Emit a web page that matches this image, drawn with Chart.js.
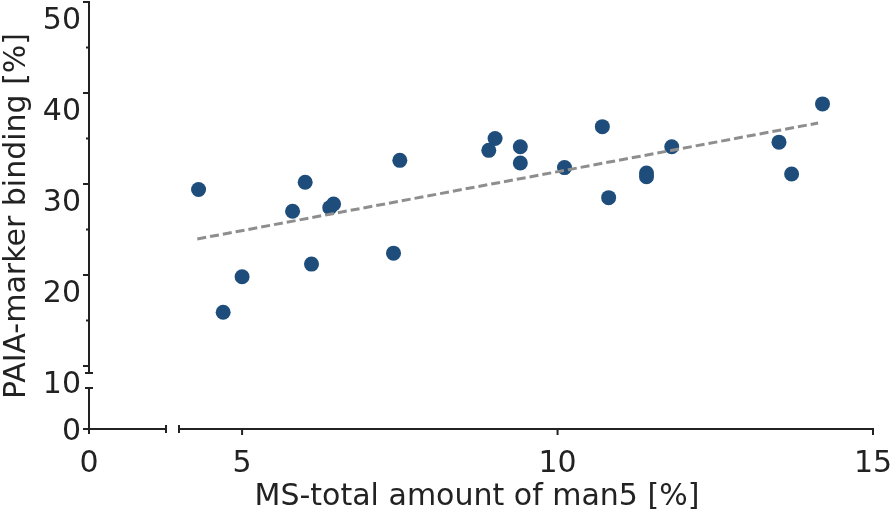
<!DOCTYPE html>
<html>
<head>
<meta charset="utf-8">
<script src="https://cdn.jsdelivr.net/npm/chart.js@4/dist/chart.umd.min.js"></script>
<style>
  html, body { margin: 0; padding: 0; background: #fff; }
  #wrap { width: 894px; height: 516px; }
</style>
</head>
<body>
<div id="wrap"><canvas id="scatterChart" width="894" height="516"></canvas></div>
<script>
// MS-total amount of man5 [%] vs PAIA-marker binding [%]
const man5Values = [4.31, 4.70, 5.00, 5.80, 6.00, 6.10, 6.39, 6.45, 7.40, 7.50, 8.91, 9.01,
  9.41, 9.41, 10.11, 10.71, 10.81, 11.41, 11.41, 11.81, 13.51, 13.71, 14.20];
const bindingValues = [29.4, 15.9, 19.8, 27.0, 30.2, 21.2, 27.4, 27.8, 22.4, 32.6, 33.7, 35.0,
  34.1, 32.3, 31.8, 36.3, 28.5, 31.2, 30.8, 34.1, 34.6, 31.1, 38.8];

// regression line end points
const trendX = [4.29, 14.13];
const trendY = [23.96, 36.7];

// axis ticks (upper / right segments of the broken axes)
const yTicks = [10, 20, 30, 40, 50];
const yMinorTicks = [15, 25, 35, 45];
const xTicks = [5, 10, 15];
// the small segments before the breaks only carry the zero
const lowTickLabel = "0";

const xTitle = "MS-total amount of man5 [%]";
const yTitle = "PAIA-marker binding [%]";

const FONT = "30px 'DejaVu Sans', sans-serif";
const INK = "#222";

const axisX = 89;   // where the y axis sits
const axisY = 429;  // where the x axis sits

const brokenAxes = {
  id: "brokenAxes",
  afterDraw(chart) {
    const ctx = chart.ctx;
    const xs = chart.scales.x;
    const ys = chart.scales.y;
    ctx.save();
    ctx.strokeStyle = INK;
    ctx.fillStyle = INK;
    ctx.lineWidth = 2;
    ctx.lineCap = "butt";

    const line = (x1, y1, x2, y2) => {
      ctx.beginPath();
      ctx.moveTo(x1, y1);
      ctx.lineTo(x2, y2);
      ctx.stroke();
    };

    // y axis, upper part (10..50)
    const yTop = ys.getPixelForValue(50);
    const y10 = ys.getPixelForValue(10);
    line(axisX, yTop - 1, axisX, y10 + 7);
    line(axisX - 4, y10 + 7, axisX + 4, y10 + 7);
    yTicks.forEach(v => line(axisX - 6, ys.getPixelForValue(v), axisX, ys.getPixelForValue(v)));
    yMinorTicks.forEach(v => line(axisX - 3, ys.getPixelForValue(v), axisX, ys.getPixelForValue(v)));

    // y axis, lower part (0..10)
    const lowTop = y10 + 22;
    line(axisX - 4, lowTop, axisX + 4, lowTop);
    line(axisX, lowTop, axisX, axisY);
    line(axisX - 6, axisY, axisX, axisY);

    // x axis, left part (0..)
    line(axisX, axisY, axisX + 77, axisY);
    line(axisX + 77, axisY - 4, axisX + 77, axisY + 4);
    line(axisX, axisY, axisX, axisY + 5);

    // x axis, right part (4..15)
    const xStart = xs.getPixelForValue(4);
    const xEnd = xs.getPixelForValue(15);
    line(xStart, axisY - 4, xStart, axisY + 4);
    line(xStart, axisY, xEnd + 1, axisY);
    xTicks.forEach(v => line(xs.getPixelForValue(v), axisY, xs.getPixelForValue(v), axisY + 6));

    // tick labels
    ctx.font = FONT;
    ctx.textBaseline = "alphabetic";
    ctx.textAlign = "right";
    yTicks.forEach(v => {
      if (v === 10) return;
      ctx.fillText(String(v), axisX - 8, ys.getPixelForValue(v) + 27);
    });
    ctx.fillText("10", axisX - 8, y10 + 27);
    ctx.fillText(lowTickLabel, axisX - 8, axisY + 11);

    ctx.textAlign = "center";
    ctx.fillText(lowTickLabel, axisX, axisY + 43);
    xTicks.forEach(v => ctx.fillText(String(v), xs.getPixelForValue(v), axisY + 43));

    // axis titles
    ctx.fillText(xTitle, 477, 505);
    ctx.translate(25, 216);
    ctx.rotate(-Math.PI / 2);
    ctx.fillText(yTitle, 0, 0);
    ctx.restore();
  }
};

const ctxScatter = document.getElementById("scatterChart").getContext("2d");

new Chart(ctxScatter, {
  type: "scatter",
  data: {
    datasets: [
      {
        label: "trend",
        type: "line",
        data: trendX.map((x, i) => ({ x, y: trendY[i] })),
        borderColor: "#8e8e8e",
        borderWidth: 3,
        borderDash: [9, 4],
        pointRadius: 0,
        fill: false,
        order: 0,
      },
      {
        label: "samples",
        data: man5Values.map((x, i) => ({ x, y: bindingValues[i] })),
        backgroundColor: "#1e4d7b",
        borderWidth: 0,
        pointRadius: 7.5,
        order: 1,
      },
    ],
  },
  options: {
    responsive: false,
    animation: false,
    layout: { autoPadding: false, padding: { left: 179, right: 21, top: 2, bottom: 150 } },
    plugins: {
      legend: { display: false },
      tooltip: { enabled: false },
    },
    scales: {
      x: { type: "linear", min: 4, max: 15, display: false },
      y: { type: "linear", min: 10, max: 50, display: false },
    },
  },
  plugins: [brokenAxes],
});
</script>
</body>
</html>
